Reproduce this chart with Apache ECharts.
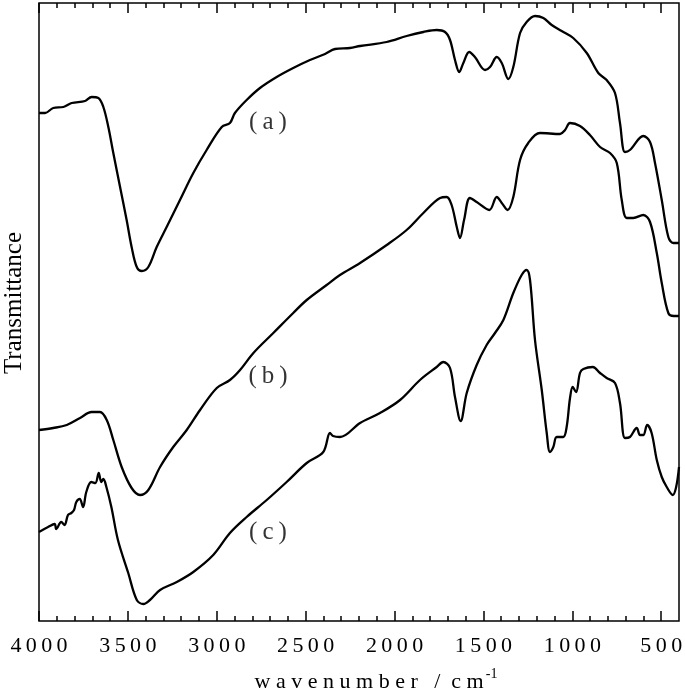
<!DOCTYPE html>
<html style="height: 100%">
    <head>
        <meta charset="utf-8">
    </head>
    <body style="height: 100%; margin: 0">
        <div id="container" style="width: 685px; height: 694px"></div>

        <script type="text/javascript" src="https://cdn.jsdelivr.net/npm/echarts@6/dist/echarts.min.js"></script>
        <script type="text/javascript">
// FTIR spectra, [wavenumber, transmittance (a.u.)]
var spectrumA = [
    [4000, 508], [3966, 508], [3920, 513], [3863, 514], [3816, 518], [3741, 520],
    [3704, 524], [3666, 523], [3638, 514], [3610, 494], [3582, 468], [3544, 434],
    [3507, 401], [3479, 374], [3450, 354], [3422, 350], [3385, 354], [3338, 374],
    [3282, 394], [3207, 421], [3132, 448], [3057, 471], [2972, 494], [2926, 498],
    [2898, 508], [2832, 521], [2757, 533], [2663, 544], [2570, 553], [2476, 561],
    [2391, 567], [2335, 572], [2251, 573], [2194, 575], [2044, 579], [1932, 585],
    [1838, 589], [1763, 591], [1716, 589], [1688, 581], [1660, 561], [1636, 549],
    [1613, 558], [1580, 569], [1548, 564], [1491, 551], [1463, 554], [1425, 564],
    [1397, 558], [1360, 542], [1332, 554], [1294, 588], [1257, 599], [1210, 605],
    [1163, 603], [1116, 596], [1060, 590], [995, 583], [919, 568], [854, 548],
    [807, 541], [760, 528], [732, 498], [704, 469], [676, 471], [601, 485],
    [563, 479], [535, 458], [497, 421], [460, 384], [432, 378], [400, 378]
];
var spectrumB = [
    [4000, 191], [3920, 193], [3844, 196], [3769, 203], [3704, 209], [3657, 209],
    [3619, 201], [3582, 181], [3535, 154], [3479, 133], [3432, 126], [3385, 131],
    [3319, 154], [3245, 174], [3169, 191], [3094, 211], [3000, 233], [2926, 241],
    [2869, 251], [2794, 268], [2682, 288], [2570, 308], [2494, 321], [2382, 336],
    [2307, 346], [2194, 358], [2044, 376], [1932, 391], [1838, 408], [1744, 423],
    [1707, 424], [1679, 416], [1650, 394], [1632, 383], [1609, 401], [1576, 423],
    [1538, 419], [1467, 411], [1425, 424], [1397, 418], [1364, 411], [1332, 424],
    [1294, 461], [1248, 478], [1182, 488], [1069, 487], [1041, 491], [1013, 498],
    [957, 495], [901, 486], [844, 474], [788, 468], [750, 458], [722, 421],
    [694, 403], [657, 403], [601, 406], [563, 399], [525, 368], [497, 338],
    [460, 308], [430, 305], [400, 305]
];
var spectrumC = [
    [4000, 89], [3949, 94], [3912, 97], [3903, 92], [3875, 99], [3856, 96],
    [3837, 106], [3818, 108], [3803, 111], [3790, 119], [3771, 122], [3752, 114],
    [3734, 129], [3706, 139], [3683, 138], [3664, 148], [3650, 139], [3638, 142],
    [3621, 134], [3593, 114], [3556, 81], [3498, 48], [3450, 21], [3413, 17],
    [3376, 21], [3319, 31], [3225, 39], [3132, 49], [3020, 66], [2926, 88],
    [2832, 104], [2719, 121], [2607, 139], [2494, 158], [2401, 169], [2363, 188],
    [2346, 185], [2307, 184], [2194, 198], [2082, 208], [1969, 221], [1857, 241],
    [1763, 254], [1726, 259], [1688, 253], [1660, 224], [1628, 200], [1594, 228],
    [1538, 256], [1482, 276], [1435, 288], [1388, 301], [1332, 328], [1285, 346],
    [1257, 351], [1238, 341], [1210, 281], [1172, 231], [1144, 188], [1126, 169],
    [1107, 174], [1088, 184], [1051, 184], [1032, 194], [1013, 223], [998, 234],
    [979, 229], [957, 248], [938, 252], [885, 254], [844, 248], [807, 243],
    [760, 238], [732, 218], [704, 183], [676, 184], [638, 193], [619, 186],
    [601, 186], [579, 196], [554, 188], [525, 161], [497, 144], [469, 134],
    [435, 126], [416, 134], [400, 154]
];
var curveLabels = [
    [2712, 499, '(a)'],
    [2712, 245, '(b)'],
    [2712, 89, '(c)']
];
var majorTicks = [4000, 3500, 3000, 2500, 2000, 1500, 1000, 500];
var minorTicks = [];
for (var w = 500; w <= 4000; w += 100) {
    if (w % 500 !== 0) minorTicks.push(w);
}

var FONT = 'Liberation Serif';
var dom = document.getElementById('container');
var myChart = echarts.init(dom, null, { renderer: 'canvas' });

function spaced(s) {
    return String(s).split('').join('\u2009');
}

function xAxisDef(pos, ticks, len, withLabel) {
    return {
        type: 'value',
        position: pos,
        min: 400,
        max: 4000,
        inverse: true,
        axisLine: { show: false },
        splitLine: { show: false },
        axisTick: {
            show: true,
            inside: true,
            length: len,
            customValues: ticks,
            lineStyle: { color: '#000', width: 1.5 }
        },
        axisLabel: withLabel ? {
            show: true,
            customValues: ticks,
            margin: 14,
            color: '#000',
            fontFamily: FONT,
            fontSize: 22,
            formatter: function (v) { return spaced(v); }
        } : { show: false }
    };
}

var bottomMajor = xAxisDef('bottom', majorTicks, 10, true);
bottomMajor.name = '{t|w a v e n u m b e r   /  c m}{s|-1}';
bottomMajor.nameLocation = 'middle';
bottomMajor.nameGap = 46;
bottomMajor.nameTextStyle = {
    padding: [0, 0, 0, 34],
    rich: {
        t: { fontFamily: FONT, fontSize: 22, color: '#000', lineHeight: 26, verticalAlign: 'bottom' },
        s: { fontFamily: FONT, fontSize: 14, color: '#000', lineHeight: 26, verticalAlign: 'top', padding: [0, 0, 0, 2] }
    }
};

function lineSeries(data) {
    return {
        type: 'line',
        data: data,
        showSymbol: false,
        smooth: 0.35,
        silent: true,
        lineStyle: { color: '#000', width: 2.3 },
        animation: false
    };
}

var option = {
    animation: false,
    backgroundColor: '#fff',
    grid: {
        left: 39,
        right: 6,
        top: 3,
        bottom: 73,
        outerBoundsMode: 'none',
        containLabel: false,
        show: true,
        borderColor: '#000',
        borderWidth: 1.5,
        backgroundColor: 'transparent'
    },
    xAxis: [
        bottomMajor,
        xAxisDef('bottom', minorTicks, 5, false),
        xAxisDef('top', majorTicks, 10, false),
        xAxisDef('top', minorTicks, 5, false)
    ],
    yAxis: {
        type: 'value',
        min: 0,
        max: 618,
        axisLine: { show: false },
        axisTick: { show: false },
        axisLabel: { show: false },
        splitLine: { show: false },
        name: 'Transmittance',
        nameLocation: 'middle',
        nameGap: 12,
        nameTextStyle: {
            fontFamily: FONT,
            fontSize: 25,
            color: '#000',
            padding: [0, 0, 0, 18]
        }
    },
    series: [
        lineSeries(spectrumA),
        lineSeries(spectrumB),
        lineSeries(spectrumC),
        {
            type: 'scatter',
            data: curveLabels,
            symbolSize: 0,
            silent: true,
            label: {
                show: true,
                position: 'inside',
                color: '#000',
                fontFamily: FONT,
                fontSize: 25,
                formatter: function (p) {
                    return p.data[2].replace('(', '(\u2009').replace(')', '\u2009)');
                }
            }
        }
    ]
};

myChart.setOption(option);
        </script>
    </body>
</html>
